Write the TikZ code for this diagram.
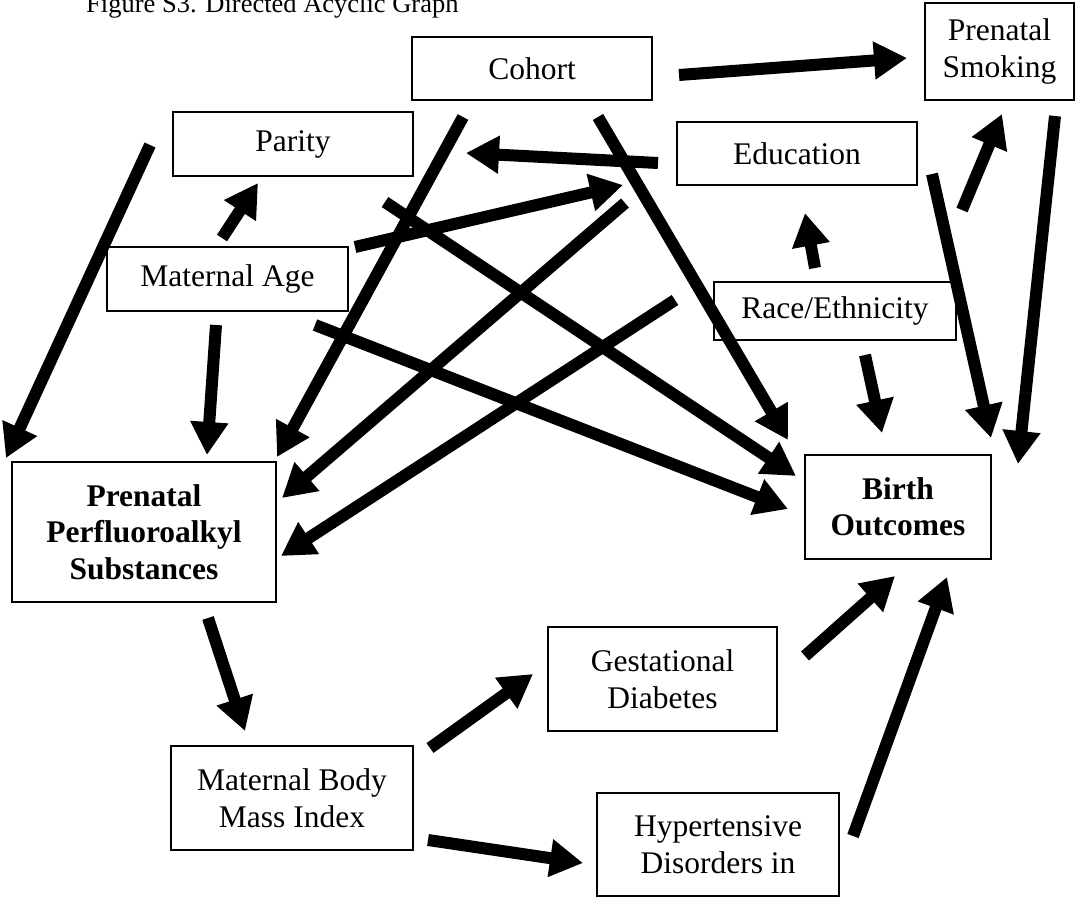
\documentclass[tikz,border=0pt]{standalone}
\usepackage{fontspec}
\setmainfont{Liberation Serif}
\usetikzlibrary{arrows.meta}
\begin{document}
\begin{tikzpicture}[x=1pt,y=-1pt,
  box/.style={draw, line width=2pt, fill=white, inner sep=0pt, align=center,
    font=\fontsize{31.5}{36.5}\selectfont},
  bbox/.style={box, font=\fontsize{31.5}{36.5}\selectfont\bfseries},
  arr/.style={line width=12pt, -{Triangle[length=33pt,width=36pt]}}]
\useasboundingbox (0,0) rectangle (1076,897);
\node[anchor=base west, inner sep=0pt, font=\fontsize{26.5}{30}\selectfont] (title) at (86,12) {Figure S3. Directed Acyclic Graph};
% boxes
\node[box, minimum width=240pt, minimum height=63pt] (cohort) at (532,68.5) {Cohort};
\node[box, minimum width=149pt, minimum height=97pt] (ps) at (999.5,51.5) {Prenatal\\Smoking};
\node[box, minimum width=240pt, minimum height=64pt] (parity) at (293,144) {Parity};
\node[box, minimum width=240pt, minimum height=63pt] (edu) at (797,153.5) {Education};
\node[box, minimum width=241pt, minimum height=64pt] (ma) at (227.5,279) {Maternal Age};
\node[box, minimum width=242pt, minimum height=58pt] (race) at (835,311) {Race/Ethnicity};
\node[bbox, minimum width=264pt, minimum height=140pt] (pfas) at (144,532) {Prenatal\\Perfluoroalkyl\\Substances};
\node[bbox, minimum width=186pt, minimum height=104pt] (bo) at (898,507) {Birth\\Outcomes};
\node[box, minimum width=229pt, minimum height=104pt] (gd) at (662.5,679) {Gestational\\Diabetes};
\node[box, minimum width=242pt, minimum height=104pt] (bmi) at (292,798) {Maternal Body\\Mass Index};
\node[box, minimum width=242pt, minimum height=103pt] (hyp) at (718,844.5) {Hypertensive\\Disorders in};
% connector ends
\coordinate (cohortA) at (679,75);   \coordinate (psA) at (907,58);
\coordinate (cohortB) at (463,117);  \coordinate (pfasA) at (277,457);
\coordinate (cohortC) at (598,117);  \coordinate (boA) at (788,440);
\coordinate (eduA) at (658,163);     \coordinate (parityA) at (466,153);
\coordinate (maA) at (355,247);      \coordinate (eduB) at (623,185);
\coordinate (maB) at (222,238);      \coordinate (parityB) at (258,183);
\coordinate (parityC) at (385,202);  \coordinate (boB) at (796,476);
\coordinate (maC) at (315,325);      \coordinate (boC) at (788,509);
\coordinate (eduC) at (625,203);     \coordinate (pfasB) at (282,498);
\coordinate (raceA) at (675,300);    \coordinate (pfasC) at (281,556);
\coordinate (parityD) at (150,145);  \coordinate (pfasD) at (6,458);
\coordinate (maD) at (216,325);      \coordinate (pfasE) at (207,455);
\coordinate (raceB) at (815,268);    \coordinate (eduD) at (805,213);
\coordinate (raceC) at (865,355);    \coordinate (boD) at (882,433);
\coordinate (eduE) at (932,174);     \coordinate (boE) at (991,438);
\coordinate (psB) at (1055,116);     \coordinate (boF) at (1018,464);
\coordinate (eduF) at (962,210);     \coordinate (psC) at (1002,114);
\coordinate (pfasF) at (208,618);    \coordinate (bmiA) at (245,731);
\coordinate (bmiB) at (430,748);     \coordinate (gdA) at (533,674);
\coordinate (bmiC) at (428,840);     \coordinate (hypA) at (583,863);
\coordinate (gdB) at (805,656);      \coordinate (boG) at (895,576);
\coordinate (hypB) at (853,836);     \coordinate (boH) at (947,577);
% arrows
\draw[arr] (cohortA) -- (psA);
\draw[arr] (cohortB) -- (pfasA);
\draw[arr] (cohortC) -- (boA);
\draw[arr] (eduA) -- (parityA);
\draw[arr] (maA) -- (eduB);
\draw[arr] (maB) -- (parityB);
\draw[arr] (parityC) -- (boB);
\draw[arr] (maC) -- (boC);
\draw[arr] (eduC) -- (pfasB);
\draw[arr] (raceA) -- (pfasC);
\draw[arr] (parityD) -- (pfasD);
\draw[arr] (maD) -- (pfasE);
\draw[arr] (raceB) -- (eduD);
\draw[arr] (raceC) -- (boD);
\draw[arr] (eduE) -- (boE);
\draw[arr] (psB) -- (boF);
\draw[arr] (eduF) -- (psC);
\draw[arr] (pfasF) -- (bmiA);
\draw[arr] (bmiB) -- (gdA);
\draw[arr] (bmiC) -- (hypA);
\draw[arr] (gdB) -- (boG);
\draw[arr] (hypB) -- (boH);
\end{tikzpicture}
\end{document}
